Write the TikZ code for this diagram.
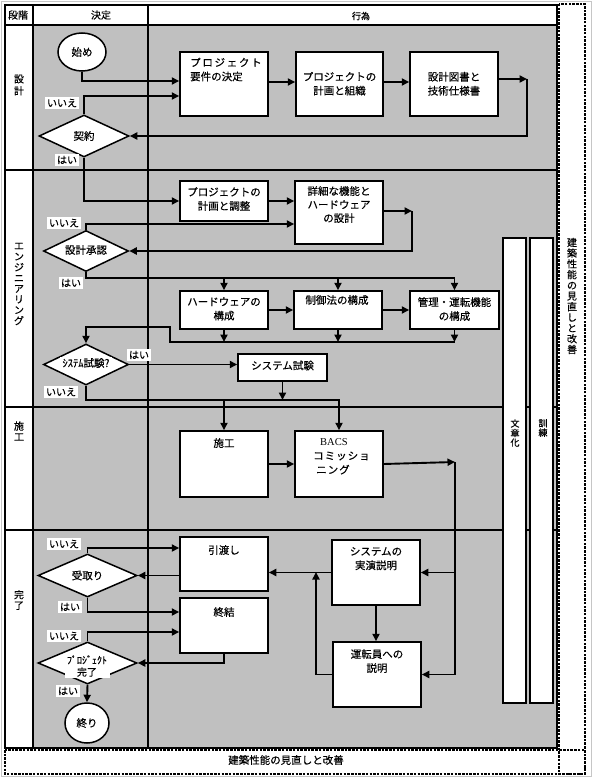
\documentclass[tikz,border=0pt]{standalone}
\usepackage{fontspec}
\setmainfont{Noto Sans CJK JP}[FakeBold=0.4]
\newfontfamily\serifbacs{Liberation Serif}
\usetikzlibrary{arrows.meta,shapes.geometric}
\definecolor{lanegray}{HTML}{C0C0C0}
\begin{document}
\begin{tikzpicture}[x=1pt,y=-1pt,
  every node/.style={inner sep=0pt, font=\fontsize{10.5}{14}\selectfont},
  box/.style={draw, fill=white, line width=1.5pt},
  dec/.style={diamond, draw, fill=white, line width=1.5pt, inner sep=0pt},
  term/.style={ellipse, draw, fill=white, line width=1.5pt},
  txt/.style={align=center, anchor=north},
  dtxt/.style={fill=white, inner xsep=2.5pt, inner ysep=1.5pt},
  lbl/.style={fill=white, font=\fontsize{10}{11}\selectfont, inner xsep=2pt, inner ysep=1.5pt},
  arr/.style={line width=1.9pt, -{Triangle[length=7.5pt,width=7pt]}},
  frame/.style={line width=1.5pt},
  dashbox/.style={line width=1.2pt, dash pattern=on 2.5pt off 1.2pt},
  vlab/.style={align=center, font=\fontsize{10}{10.7}\selectfont},
]
\useasboundingbox (0,0) rectangle (593,778);
% background and lanes
\draw[gray!45, line width=0.8pt] (1.5,1.5) rectangle (591.5,776.5);
\fill[lanegray] (33,25) rectangle (557,748);
\fill[white] (5,25) rectangle (33,748);
\fill[white] (5,5) rectangle (557,25);
\foreach \yy in {25,170,407,530} \draw[frame] (5,\yy) -- (557,\yy);
\draw[frame] (33,5) -- (33,748);
\draw[frame] (148,5) -- (148,748);
\draw[frame] (5,5) rectangle (557,748);
\draw[dashbox] (559,4) rectangle (585,774);
\draw[dashbox] (5,750) rectangle (585,774);

% headers
\node[font=\fontsize{10}{12}\selectfont] (hStage) at (18,15) {段階};
\node[font=\fontsize{10}{12}\selectfont] (hDec) at (101,15) {決定};
\node[font=\fontsize{9}{11}\selectfont] (hAct) at (361,16) {行為};

% stage labels
\node[vlab, font=\fontsize{10}{12}\selectfont] (sDesign) at (19,85) {設\\計};
\node[vlab] (sEng) at (19,284) {エ\\ン\\ジ\\ニ\\ア\\リ\\ン\\グ};
\node[vlab] (sCon) at (19,431) {施\\工};
\node[vlab] (sFin) at (19,600) {完\\了};

% side bars
\node[box, line width=1.3pt, minimum width=23pt, minimum height=465pt] (docbar) at (514.5,470.5) {};
\node[box, line width=1.3pt, minimum width=23pt, minimum height=465pt] (trbar) at (541.5,470.5) {};
\node[vlab, font=\fontsize{9}{9.5}\selectfont] (docT) at (515,433) {文\\章\\化};
\node[vlab, font=\fontsize{9}{9.5}\selectfont] (trT) at (543,428) {訓\\練};

% review labels
\node[vlab] (rightT) at (572,296) {建\\築\\性\\能\\の\\見\\直\\し\\と\\改\\善};
\node (botT) at (286,760) {建築性能の見直しと改善};

% design row
\node[term, minimum width=48pt, minimum height=38pt] (start) at (82,52) {始め};
\node[box, minimum width=88pt, minimum height=64pt] (req) at (224,84) {};
\node[txt, anchor=north west, align=left] (reqT) at (190,57.5) {プ\hspace{1.7pt}ロ\hspace{1.7pt}ジ\hspace{1.7pt}ェ\hspace{1.7pt}ク\hspace{1.7pt}ト\\要件の決定};
\node[box, minimum width=87pt, minimum height=64pt] (plan) at (339.5,84) {};
\node[txt] (planT) at (339.5,71.7) {プロジェクトの\\計画と組織};
\node[box, minimum width=88pt, minimum height=64pt] (spec) at (454,84) {};
\node[txt] (specT) at (454,71.7) {設計図書と\\技術仕様書};
\node[dec, minimum width=90pt, minimum height=42pt] (kei) at (84,136) {契約};

% engineering row
\node[box, minimum width=88pt, minimum height=40pt] (adj) at (224,201) {};
\node[txt] (adjT) at (224,187) {プロジェクトの\\計画と調整};
\node[box, minimum width=88pt, minimum height=63pt] (det) at (339,212.5) {};
\node[txt, font=\fontsize{10.5}{13.5}\selectfont] (detT) at (339,186) {詳細な機能と\\ハードウェア\\の設計};
\node[dec, minimum width=85pt, minimum height=41pt] (appr) at (86,251) {};
\node[dtxt] (apprT) at (86,250) {設計承認};
\node[box, minimum width=88pt, minimum height=38pt] (hw) at (224,310) {};
\node[txt] (hwT) at (224,297) {ハードウェアの\\構成};
\node[box, minimum width=88pt, minimum height=38pt] (ctl) at (338,310) {};
\node[txt] (ctlT) at (337,295) {制御法の構成};
\node[box, minimum width=89pt, minimum height=38pt] (mgt) at (454.5,310) {};
\node[txt] (mgtT) at (454.5,297) {管理・運転機能\\の構成};
\node[dec, minimum width=85pt, minimum height=41pt] (stq) at (86,364.5) {};
\node[dtxt] (stqT) at (86,363) {ｼｽﾃﾑ試験?};
\node[box, minimum width=89pt, minimum height=27pt] (test) at (282.5,367.5) {};
\node (testT) at (282.5,365.5) {システム試験};

% construction row
\node[box, minimum width=88pt, minimum height=66pt] (con) at (224,464) {};
\node[txt] (conT) at (224,438) {施工};
\node[box, minimum width=88pt, minimum height=66pt] (bacs) at (339,464) {};
\node[anchor=north west, align=left] (bacsT) at (313,438.5) {\hspace*{7pt}{\serifbacs BACS}\\コ\hspace{1pt}ミ\hspace{1pt}ッ\hspace{1pt}シ\hspace{1pt}ョ\\\hspace*{3pt}ニ\hspace{1pt}ン\hspace{1pt}グ};

% completion row
\node[box, minimum width=88pt, minimum height=54pt] (hand) at (224,564) {};
\node[txt] (handT) at (224,545) {引渡し};
\node[box, minimum width=88pt, minimum height=55pt] (fin) at (224,625.5) {};
\node[txt] (finT) at (224,607) {終結};
\node[box, minimum width=88pt, minimum height=65pt] (demo) at (376,572.5) {};
\node[txt] (demoT) at (376,547) {システムの\\実演説明};
\node[box, minimum width=88pt, minimum height=65pt] (oper) at (377,674.5) {};
\node[txt] (operT) at (377,649) {運転員への\\説明};
\node[dec, minimum width=99pt, minimum height=43pt] (acc) at (87.5,575.5) {受取り};
\node[dec, minimum width=99pt, minimum height=42pt] (pdone) at (87.5,663) {};
\node[dtxt, align=center, font=\fontsize{10}{12}\selectfont, inner ysep=1pt] (pdoneT) at (87,666) {ﾌﾟﾛｼﾞｪｸﾄ\\完了};
\node[term, minimum width=44pt, minimum height=40pt] (end) at (87,723) {終り};

% junctions
\coordinate (j1) at (527,79);
\coordinate (j2) at (412,211);
\coordinate (k1) at (170,342);
\coordinate (k2) at (170,327);
\coordinate (j4) at (455,462);
\coordinate (j5) at (316,572);

% connectors: design
\draw[arr] (start.south) |- (req.west |- 0,81);
\draw[arr] (kei.north) |- (req.west |- 0,96);
\draw[arr] (req.east |- 0,82) -- (plan.west |- 0,82);
\draw[arr] (plan.east |- 0,82) -- (spec.west |- 0,82);
\draw[arr] (spec.east |- j1) -- (j1);
\draw[arr] (j1) |- (kei.east);
\draw[arr] (kei.south) |- (adj.west);
% engineering
\draw[arr] (adj.east) -- (det.west |- adj.east);
\draw[arr] (appr.north) |- (det.west |- 0,224);
\draw[arr] (det.east |- j2) -- (j2);
\draw[arr] (j2) |- (appr.east);
\draw[arr] (appr.south) |- (mgt.north |- 0,278) -- (mgt.north);
\draw[arr] (hw.north |- 0,278) -- (hw.north);
\draw[arr] (ctl.north |- 0,278) -- (ctl.north);
\draw[arr] (hw.east) -- (ctl.west);
\draw[arr] (ctl.east) -- (mgt.west);
\draw[arr] (hw.south) -- (hw.south |- k1);
\draw[arr] (ctl.south) -- (ctl.south |- k1);
\draw[arr] (mgt.south) -- (mgt.south |- k1);
\draw[arr] (mgt.south |- k1) -- (k1) -- (k2) -| (stq.north);
\draw[arr] (stq.east) -- (test.west |- stq.east);
\draw[arr] (test.south) -- (test.south |- 0,400);
\draw[arr] (stq.south) |- (bacs.north |- 0,400) -- (bacs.north);
\draw[arr] (con.north |- 0,400) -- (con.north);
% construction
\draw[arr] (con.east) -- (bacs.west);
\draw[arr] (bacs.east) -- (j4);
\draw[arr] (j4) |- (oper.east);
\draw[arr] (j4 |- demo.east) -- (demo.east);
% completion
\draw[arr] (demo.west) -- (hand.east |- demo.west);
\draw[arr] (oper.west) -| (j5);
\draw[arr] (demo.south) -- (demo.south |- oper.north);
\draw[arr] (acc.north) |- (hand.west |- 0,548);
\draw[arr] (hand.west |- acc.east) -- (acc.east);
\draw[arr] (acc.south) |- (fin.west |- 0,612);
\draw[arr] (pdone.north) |- (fin.west |- 0,632);
\draw[arr] (fin.south) |- (pdone.east);
\draw[arr] (pdone.south) -- (end.north);

% yes/no labels
\node[lbl] (l1) at (62,103) {いいえ};
\node[lbl] (l2) at (67,160) {はい};
\node[lbl] (l3) at (64,223) {いいえ};
\node[lbl] (l4) at (71,283) {はい};
\node[lbl] (l5) at (139,355) {はい};
\node[lbl] (l6) at (61,392) {いいえ};
\node[lbl] (l7) at (64,544) {いいえ};
\node[lbl] (l8) at (70,607) {はい};
\node[lbl] (l9) at (64,636) {いいえ};
\node[lbl] (l10) at (68,691) {はい};
\end{tikzpicture}
\end{document}
